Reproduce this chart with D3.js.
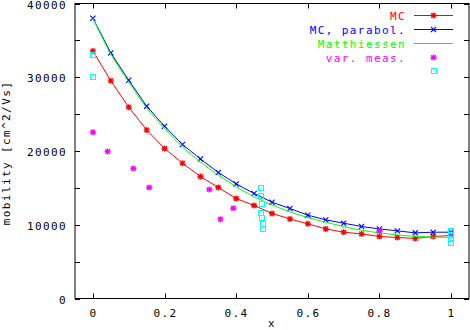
<!DOCTYPE html>
<html>
<head>
<meta charset="utf-8">
<script src="https://cdn.jsdelivr.net/npm/d3@7"></script>
<style>
  html, body { margin: 0; padding: 0; background: #fff; }
  svg { display: block; }
  text { font-family: "DejaVu Sans Mono", monospace; font-size: 11px; letter-spacing: 1.4px; }
</style>
</head>
<body>
<svg id="chart" width="470" height="330"></svg>
<script>
// ---- data ----
const xGrid = [0, 0.05, 0.1, 0.15, 0.2, 0.25, 0.3, 0.35, 0.4, 0.45, 0.5,
               0.55, 0.6, 0.65, 0.7, 0.75, 0.8, 0.85, 0.9, 0.95, 1.0];
const mcValues = [33570, 29510, 25940, 22860, 20340, 18350, 16540, 15050, 13560, 12610, 11530,
                  10790, 10120, 9440, 8990, 8760, 8410, 8270, 8140, 8410, 8540];
const mcParabolValues = [38010, 33300, 29600, 26080, 23360, 20880, 18930, 17090, 15540, 14240, 13060,
                         12200, 11300, 10660, 10210, 9760, 9440, 9170, 8900, 8990, 8990];
const matthiessenValues = [38000, 33150, 29350, 25850, 23050, 20550, 18520, 16750, 15150, 13800, 12700,
                           11750, 10980, 10350, 9750, 9250, 8900, 8620, 8420, 8330, 8280];
const measX = [0, 0.041, 0.113, 0.157, 0.325, 0.356, 0.392, 0.8, 1.0];
const measY = [22550, 19930, 17630, 15050, 14780, 10750, 12240, 9150, 8580];
const meas2X = [0, 0, 0.47, 0.47, 0.473, 0.47, 0.473, 0.475, 0.475, 1.0, 1.0, 1.0, 1.0];
const meas2Y = [32950, 29970, 15050, 13870, 12880, 11530, 10930, 10080, 9490, 9125, 8580, 8040, 7460];
const xTicks = [0, 0.2, 0.4, 0.6, 0.8, 1];
const xTickLabels = ["0", "0.2", "0.4", "0.6", "0.8", "1"];
const yTicks = [0, 5000, 10000, 15000, 20000, 25000, 30000, 35000, 40000];
const yTickLabels = ["0", "", "10000", "", "20000", "", "30000", "", "40000"];
const seriesNames = ["MC", "MC, parabol.", "Matthiessen", "var. meas.", ""];
const seriesColors = ["#ff0000", "#0000ff", "#00ff00", "#ff00ff", "#00ffff"];

// ---- layout ----
const svg = d3.select("#chart");
const L = 75, R = 469, T = 3.5, B = 298.5;
const x = d3.scaleLinear().domain([-0.05, 1.05]).range([L, R]);
const y = d3.scaleLinear().domain([0, 40000]).range([B, T]);
const tick = 5;

// frame
svg.append("rect").attr("x", L).attr("y", T).attr("width", R - L).attr("height", B - T)
  .attr("fill", "none").attr("stroke", "#000").attr("stroke-width", 1);

// x ticks (bottom + top, inward)
const gx = svg.append("g");
xTicks.forEach((t, i) => {
  const px = Math.round(x(t)) + 0.5;
  gx.append("line").attr("x1", px).attr("x2", px).attr("y1", B).attr("y2", B - tick).attr("stroke", "#000");
  gx.append("line").attr("x1", px).attr("x2", px).attr("y1", T).attr("y2", T + tick).attr("stroke", "#000");
  gx.append("text").attr("x", px).attr("y", 317).attr("text-anchor", "middle").text(xTickLabels[i]);
});
// y ticks (left + right, inward)
const gy = svg.append("g");
yTicks.forEach((t, i) => {
  const py = Math.round(y(t)) + 0.5;
  gy.append("line").attr("x1", L).attr("x2", L + tick).attr("y1", py).attr("y2", py).attr("stroke", "#000");
  gy.append("line").attr("x1", R).attr("x2", R - tick).attr("y1", py).attr("y2", py).attr("stroke", "#000");
  if (yTickLabels[i]) {
    gy.append("text").attr("x", 67).attr("y", py + 4).attr("text-anchor", "end").text(yTickLabels[i]);
  }
});

// axis labels
svg.append("text").attr("x", 272).attr("y", 327).attr("text-anchor", "middle").text("x");
svg.append("text").attr("transform", "translate(10,153) rotate(-90)")
  .attr("text-anchor", "middle").text("mobility [cm^2/Vs]");

// ---- markers ----
function star(g, cx, cy, color) {
  const s = 3, d = 2.3;
  const p = g.append("path")
    .attr("d", `M${cx - s},${cy}H${cx + s}M${cx},${cy - s}V${cy + s}` +
               `M${cx - d},${cy - d}L${cx + d},${cy + d}M${cx - d},${cy + d}L${cx + d},${cy - d}`)
    .attr("stroke", color).attr("stroke-width", 1.3).attr("fill", "none");
}
function cross(g, cx, cy, color) {
  const d = 2.6;
  g.append("path")
    .attr("d", `M${cx - d},${cy - d}L${cx + d},${cy + d}M${cx - d},${cy + d}L${cx + d},${cy - d}`)
    .attr("stroke", color).attr("stroke-width", 1.1).attr("fill", "none");
}
function box(g, cx, cy, color) {
  g.append("rect").attr("x", Math.round(cx) - 2.5).attr("y", Math.round(cy) - 2.5)
    .attr("width", 5).attr("height", 5).attr("fill", "none").attr("stroke", color).attr("stroke-width", 1);
  g.append("rect").attr("x", Math.round(cx) - 0.5).attr("y", Math.round(cy) - 0.5)
    .attr("width", 1).attr("height", 1).attr("fill", color);
}

const line = d3.line().x(d => x(d[0])).y(d => y(d[1]));
const plot = svg.append("g");

// MC
const mcData = xGrid.map((v, i) => [v, mcValues[i]]);
plot.append("path").datum(mcData).attr("d", line).attr("fill", "none").attr("stroke", seriesColors[0]).attr("stroke-width", 1);
mcData.forEach(d => star(plot, x(d[0]), y(d[1]), seriesColors[0]));
// MC parabol
const mpData = xGrid.map((v, i) => [v, mcParabolValues[i]]);
plot.append("path").datum(mpData).attr("d", line).attr("fill", "none").attr("stroke", seriesColors[1]).attr("stroke-width", 1);
mpData.forEach(d => cross(plot, x(d[0]), y(d[1]), seriesColors[1]));
// Matthiessen
const mtData = xGrid.map((v, i) => [v, matthiessenValues[i]]);
plot.append("path").datum(mtData).attr("d", line.curve(d3.curveMonotoneX)).attr("fill", "none").attr("stroke", seriesColors[2]).attr("stroke-width", 1);
line.curve(d3.curveLinear);
// var. meas.
measX.forEach((v, i) => star(plot, x(v), y(measY[i]), seriesColors[3]));
// second measurement set
meas2X.forEach((v, i) => box(plot, x(v), y(meas2Y[i]), seriesColors[4]));

// ---- legend ----
const legRows = [15, 29, 43, 57, 71];
const lg = svg.append("g");
seriesNames.forEach((name, i) => {
  const ry = legRows[i];
  if (name) lg.append("text").attr("x", 406).attr("y", ry + 4.5).attr("text-anchor", "end")
    .attr("fill", seriesColors[i]).text(name);
  if (i < 3) lg.append("line").attr("x1", 414).attr("x2", 453).attr("y1", ry + 0.5).attr("y2", ry + 0.5)
    .attr("stroke", seriesColors[i]).attr("stroke-width", 1);
  if (i === 0 || i === 3) star(lg, 433.5, ry + 0.5, seriesColors[i]);
  if (i === 1) cross(lg, 433.5, ry + 0.5, seriesColors[i]);
  if (i === 4) box(lg, 433.5, ry, seriesColors[i]);
});
</script>
</body>
</html>
